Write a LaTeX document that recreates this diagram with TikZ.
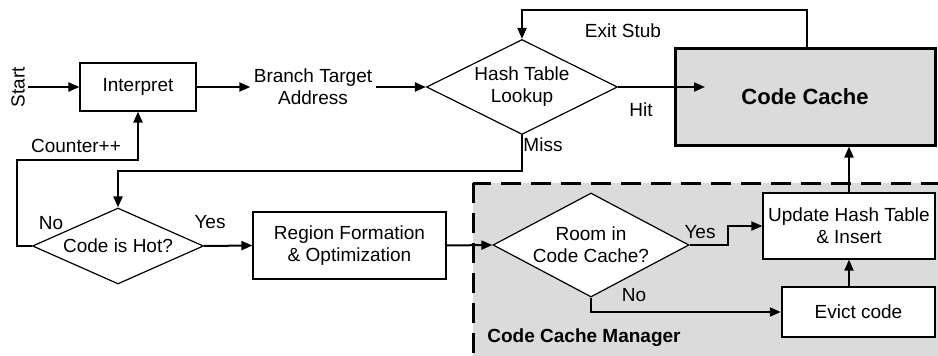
\documentclass[tikz,border=0pt]{standalone}
\usepackage{fontspec}
\setmainfont{Liberation Sans}
\usetikzlibrary{shapes.geometric,arrows.meta}

\tikzset{
    box/.style={draw,line width=1.2pt,fill=white,inner sep=0pt,align=center},
    decision/.style={diamond,draw,line width=1.2pt,fill=white,inner sep=0pt,align=center},
    conn/.style={line width=2pt,-{Triangle[length=11pt,width=9pt]}},
    heavy/.style={font=\fontsize{19}{22}\selectfont\bfseries},
}

\begin{document}
\begin{tikzpicture}[x=1pt,y=-1pt,font=\fontsize{19}{22}\selectfont]
    \useasboundingbox (0,0) rectangle (938,356);
    \clip (0,0) rectangle (938,356);

    % code cache manager area
    \draw[line width=3pt,dash pattern=on 20pt off 10pt,fill=gray!28] (473,183) rectangle (960,380);
    \node[heavy] (mgr) at (584,338) {Code Cache Manager};

    \node[rotate=90] (start) at (18,87) {Start};
    \node[box,minimum width=116pt,minimum height=48pt] (interp) at (138,87) {Interpret};
    \node[align=center] (bta) at (313,87) {Branch Target\\Address};
    \node[decision,shape aspect=2,minimum width=191pt,minimum height=95pt] (hash) at (522,87) {Hash Table\\Lookup};
    \node[box,line width=3pt,fill=gray!28,minimum width=260pt,minimum height=97pt,
          font=\fontsize{22}{26}\selectfont\bfseries] (cache) at (805,96.5) {Code Cache};
    \node[decision,shape aspect=2.25,minimum width=171pt,minimum height=76pt] (hot) at (118,246) {Code is Hot?};
    \node[box,minimum width=193pt,minimum height=67pt] (region) at (349.5,245.5) {Region Formation\\\& Optimization};
    \node[decision,shape aspect=1.9,minimum width=196pt,minimum height=104pt] (room) at (591,245) {Room in\\Code Cache?};
    \node[box,minimum width=172pt,minimum height=66pt] (update) at (849,226) {Update Hash Table\\\& Insert};
    \node[box,line width=2.5pt,minimum width=153pt,minimum height=50pt] (evict) at (858.5,312) {Evict code};

    % edge labels
    \node (exitlbl) at (623,31) {Exit Stub};
    \node (hitlbl) at (641,110) {Hit};
    \node (misslbl) at (543,145) {Miss};
    \node (cntlbl) at (76,146) {Counter++};
    \node (nolbl) at (51,223) {No};
    \node (yeslbl) at (210,222) {Yes};
    \node (roomyes) at (700,232) {Yes};
    \node (roomno) at (634,295) {No};

    \coordinate (hitend) at (705,87);
    \coordinate (stub) at (807,10);
    \coordinate (loop) at (17,160);

    \draw[conn] (start.south) -- (interp.west);
    \draw[conn] (interp.east) -- (bta.west);
    \draw[conn] (bta.east) -- (hash.west);
    \draw[conn] (hash.east) -- (hitend);
    \draw[conn] (cache.north -| stub) -- (stub) -| (hash.north);
    \draw[conn] (hash.south) -- ++(0,36) -| (hot.north);
    \draw[conn] (hot.west) -| (loop) -| (interp.south);
    \draw[conn] (hot.east) -- (region.west);
    \draw[conn] (region.east) -- (room.west);
    \draw[conn] (room.east) -- ++(38,0) |- (update.west);
    \draw[conn] (room.south) |- (evict.west);
    \draw[conn] (update.south |- evict.north) -- (update.south);
    \draw[conn] (update.north) -- (update.north |- cache.south);
\end{tikzpicture}
\end{document}
